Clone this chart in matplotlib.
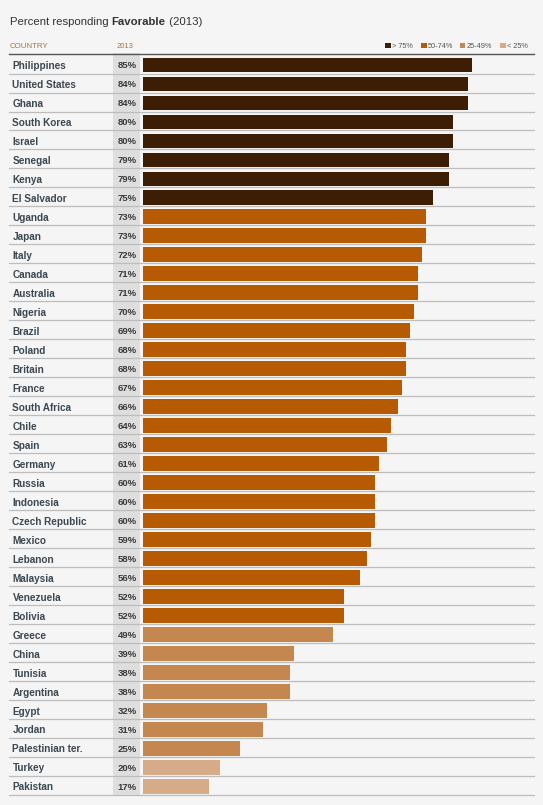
import matplotlib
matplotlib.use("Agg")
import matplotlib.pyplot as plt
from matplotlib.patches import Rectangle
from matplotlib.transforms import blended_transform_factory

countries = ["Philippines", "United States", "Ghana", "South Korea", "Israel", "Senegal",
             "Kenya", "El Salvador", "Uganda", "Japan", "Italy", "Canada", "Australia",
             "Nigeria", "Brazil", "Poland", "Britain", "France", "South Africa", "Chile",
             "Spain", "Germany", "Russia", "Indonesia", "Czech Republic", "Mexico",
             "Lebanon", "Malaysia", "Venezuela", "Bolivia", "Greece", "China", "Tunisia",
             "Argentina", "Egypt", "Jordan", "Palestinian ter.", "Turkey", "Pakistan"]
values = [85, 84, 84, 80, 80, 79, 79, 75, 73, 73, 72, 71, 71, 70, 69, 68, 68, 67, 66, 64,
          63, 61, 60, 60, 60, 59, 58, 56, 52, 52, 49, 39, 38, 38, 32, 31, 25, 20, 17]
legend_labels = ["> 75%", "50-74%", "25-49%", "< 25%"]
bin_edges = [75, 50, 25]
palette = ["#3d1d03", "#b65b04", "#c3874f", "#d5ac87"]

W, H = 543, 805
fig = plt.figure(figsize=(W / 100, H / 100), dpi=100)
fig.patch.set_facecolor("#f5f5f5")

def fx(px):
    return px / W

def fy(py):
    return 1 - py / H

x0, x100 = 143, 530
top, bot = 55.5, 796
ax = fig.add_axes([fx(x0), fy(bot), fx(x100) - fx(x0), fy(top) - fy(bot)])
ax.set_zorder(2)
ax.set_xlim(0, 100)
n = len(countries)
ax.set_ylim(n - 0.5, -0.5)
ax.axis("off")
ax.patch.set_alpha(0)

def bin_of(v):
    for i, e in enumerate(bin_edges):
        if v >= e:
            return i
    return len(bin_edges)

colors = [palette[bin_of(v)] for v in values]
ypos = list(range(n))
ax.barh(ypos, values, height=0.78, color=colors, zorder=3)

# grey value column
fig.patches.append(Rectangle((fx(113), fy(795)), fx(140) - fx(113), fy(53) - fy(795),
                             transform=fig.transFigure, facecolor="#dedede",
                             edgecolor="none", zorder=-1))

tr = blended_transform_factory(fig.transFigure, ax.transData)
for i, (c, v) in enumerate(zip(countries, values)):
    ax.text(fx(12.5), i + 0.05, c, transform=tr, ha="left", va="center", fontsize=7.2,
            fontweight="bold", color="#3b4852", family=["Liberation Sans", "DejaVu Sans"],
            zorder=5)
    ax.text(fx(136.5), i + 0.05, f"{v}%", transform=tr, ha="right", va="center", fontsize=6.8,
            fontweight="bold", color="#3a3a3a",
            family=["Liberation Sans Narrow", "Liberation Sans", "DejaVu Sans"], zorder=5)
    ax.plot([fx(9), fx(534)], [i + 0.45, i + 0.45], transform=tr, color="#bdbdbd",
            lw=0.9, clip_on=False, zorder=1)

# header line
ax.plot([fx(9), fx(534)], [-0.6, -0.6], transform=tr, color="#555555", lw=1.0,
        clip_on=False, zorder=1)

# headers
fig.text(fx(10), fy(46.5), "COUNTRY", ha="left", va="center", fontsize=5.7,
         color="#a8743c", family=["Liberation Sans", "DejaVu Sans"])
fig.text(fx(117), fy(46.5), "2013", ha="left", va="center", fontsize=5.5,
         color="#a8743c", family=["Liberation Sans", "DejaVu Sans"])

# legend
leg_x = [385, 421, 460, 500]
for lx, lab, col in zip(leg_x, legend_labels, palette):
    fig.patches.append(Rectangle((fx(lx), fy(48.5)), fx(5.5), 5.5 / H,
                                 transform=fig.transFigure, facecolor=col,
                                 edgecolor="none"))
    fig.text(fx(lx + 7), fy(46), lab, ha="left", va="center", fontsize=5.3,
             color="#555555", family=["Liberation Sans", "DejaVu Sans"])

# title with mixed weights
renderer = fig.canvas.get_renderer()
xcur = fx(10)
for part, wt in [("Percent responding ", "normal"), ("Favorable", "bold"), (" (2013)", "normal")]:
    t = fig.text(xcur, fy(22), part, ha="left", va="center", fontsize=8.2,
                 fontweight=wt, color="#333333", family=["Liberation Sans", "DejaVu Sans"])
    bb = t.get_window_extent(renderer=renderer)
    xcur += bb.width / (W)

fig.savefig("out.png", dpi=100, facecolor=fig.get_facecolor())
